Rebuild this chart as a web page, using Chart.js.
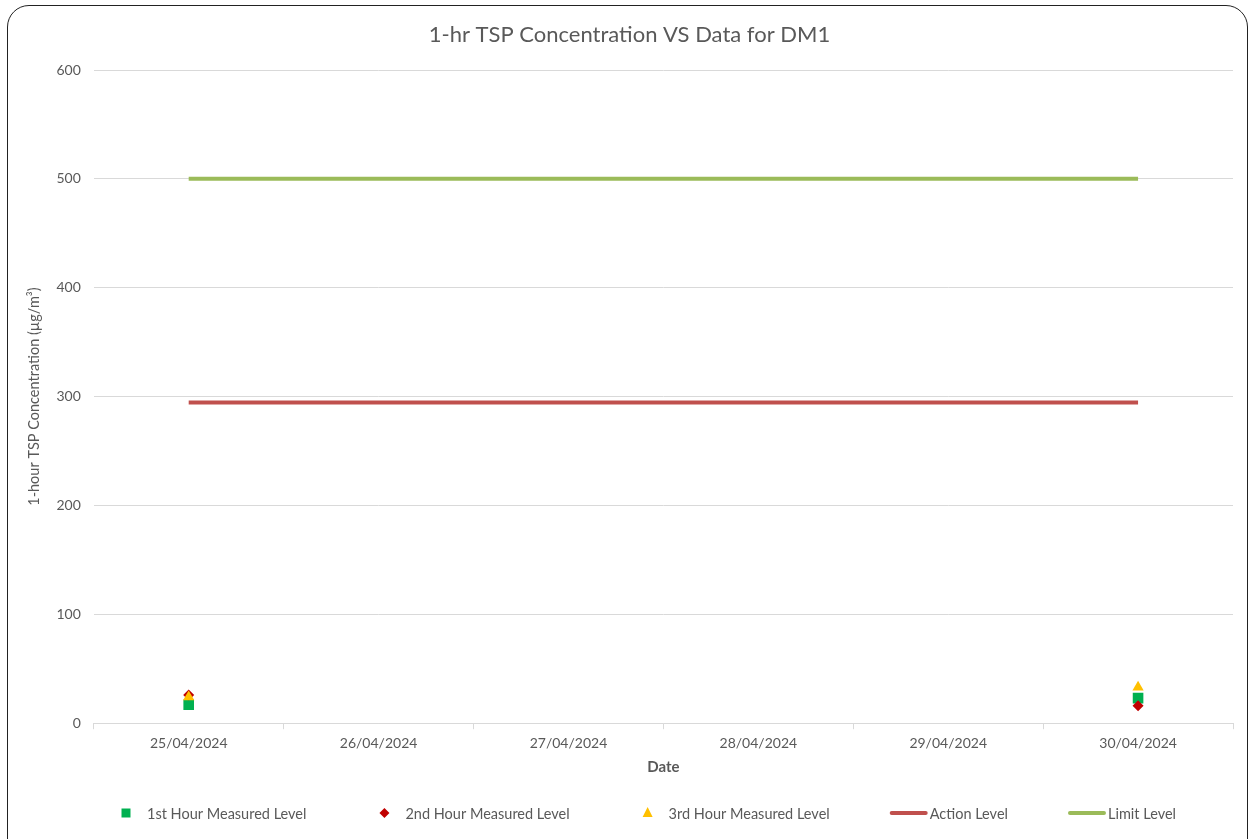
<!DOCTYPE html>
<html>
<head>
<meta charset="utf-8">
<script src="https://cdn.jsdelivr.net/npm/chart.js@4.4.1/dist/chart.umd.min.js"></script>
<style>
  html, body { margin: 0; padding: 0; background: #fff; }
  #frame {
    position: absolute; left: 7px; top: 5px; width: 1241px; height: 860px;
    border: 1.5px solid #222; border-radius: 22px; box-sizing: border-box;
  }
  #myChart { position: absolute; left: 0; top: 0; }
</style>
</head>
<body>
<div id="frame"></div>
<canvas id="myChart" width="1255" height="839"></canvas>
<script>
const labels = ["25/04/2024", "26/04/2024", "27/04/2024", "28/04/2024", "29/04/2024", "30/04/2024"];
const firstHour = [17, null, null, null, null, 23];
const secondHour = [26, null, null, null, null, 16];
const thirdHour = [24, null, null, null, null, 33];
const actionLevel = [294.5, 294.5, 294.5, 294.5, 294.5, 294.5];
const limitLevel = [500, 500, 500, 500, 500, 500];

const FONT = "Lato, Carlito, 'Open Sans', sans-serif";
const GREY = "#595959";

// legend drawn by hand so the line samples can be long like the original
const bottomLegend = {
  id: "bottomLegend",
  afterDraw(chart) {
    const ctx = chart.ctx;
    const y = 813;
    const gapsBefore = [0, 73, 73, 60, 60];
    ctx.save();
    ctx.font = "14.5px " + FONT;
    ctx.textBaseline = "middle";
    let x = 121;
    chart.data.datasets.forEach((ds, i) => {
      const isLine = ds.showLine !== false;
      const sample = isLine ? 38 : 10;
      const gap = isLine ? 2 : 16;
      x += gapsBefore[i];
      if (isLine) {
        ctx.strokeStyle = ds.borderColor;
        ctx.lineWidth = 4;
        ctx.lineCap = "round";
        ctx.beginPath();
        ctx.moveTo(x + 2, y);
        ctx.lineTo(x + sample - 2, y);
        ctx.stroke();
      } else {
        ctx.fillStyle = ds.pointBackgroundColor;
        const cx = x + 5;
        ctx.beginPath();
        if (ds.pointStyle === "rect") {
          ctx.rect(cx - 4.5, y - 4.5, 9, 9);
        } else if (ds.pointStyle === "rectRot") {
          ctx.moveTo(cx, y - 5); ctx.lineTo(cx + 5, y); ctx.lineTo(cx, y + 5); ctx.lineTo(cx - 5, y);
        } else {
          ctx.moveTo(cx, y - 6); ctx.lineTo(cx + 5, y + 4); ctx.lineTo(cx - 5, y + 4);
        }
        ctx.closePath();
        ctx.fill();
      }
      ctx.fillStyle = GREY;
      ctx.fillText(ds.label, x + sample + gap, y + 1);
      x += sample + gap + ctx.measureText(ds.label).width;
    });
    ctx.restore();
  }
};

const data = {
  labels: labels,
  datasets: [
    {
      label: "1st Hour Measured Level",
      data: firstHour,
      showLine: false,
      pointStyle: "rect",
      pointRadius: 7.5,
      pointBackgroundColor: "#00b050",
      pointBorderColor: "#00b050",
      pointBorderWidth: 0,
      order: 3,
    },
    {
      label: "2nd Hour Measured Level",
      data: secondHour,
      showLine: false,
      pointStyle: "rectRot",
      pointRadius: 5.5,
      pointBackgroundColor: "#c00000",
      pointBorderColor: "#c00000",
      pointBorderWidth: 0,
      order: 2,
    },
    {
      label: "3rd Hour Measured Level",
      data: thirdHour,
      showLine: false,
      pointStyle: "triangle",
      pointRadius: 6.5,
      pointBackgroundColor: "#ffc000",
      pointBorderColor: "#ffc000",
      pointBorderWidth: 0,
      order: 1,
    },
    {
      label: "Action Level",
      data: actionLevel,
      borderColor: "#c0504d",
      backgroundColor: "#c0504d",
      borderWidth: 4,
      pointRadius: 0,
      tension: 0,
      order: 4,
    },
    {
      label: "Limit Level",
      data: limitLevel,
      borderColor: "#9bbb59",
      backgroundColor: "#9bbb59",
      borderWidth: 4,
      pointRadius: 0,
      tension: 0,
      order: 5,
    },
  ],
};

const options = {
  responsive: false,
  animation: false,
  devicePixelRatio: 1,
  layout: { padding: { left: 26, right: 22, top: 0, bottom: 60 } },
  plugins: {
    legend: { display: false },
    tooltip: { enabled: false },
    title: {
      display: true,
      text: "1-hr TSP Concentration VS Data for DM1",
      color: GREY,
      font: { family: FONT, size: 22, weight: "normal" },
      padding: { top: 22, bottom: 21.6 },
    },
  },
  scales: {
    x: {
      offset: true,
      grid: {
        offset: true,
        drawOnChartArea: false,
        drawTicks: true,
        tickLength: 6,
        color: "#d9d9d9",
      },
      border: { color: "#d9d9d9", width: 1 },
      ticks: {
        color: GREY,
        font: { family: FONT, size: 14 },
        padding: 6,
        maxRotation: 0,
      },
      title: {
        display: true,
        text: "Date",
        color: GREY,
        font: { family: FONT, size: 15, weight: "bold" },
        padding: { top: 0, bottom: 3 },
      },
    },
    y: {
      min: 0,
      max: 600,
      ticks: {
        stepSize: 100,
        color: GREY,
        font: { family: FONT, size: 14 },
        padding: 13,
      },
      grid: { color: "#d9d9d9", drawTicks: false },
      border: { display: false },
      title: {
        display: true,
        text: "1-hour TSP Concentration (µg/m³)",
        color: GREY,
        font: { family: FONT, size: 14.5, weight: "normal" },
        padding: { top: 0, bottom: 0 },
      },
    },
  },
};

const config = {
  type: "line",
  data: data,
  options,
  plugins: [bottomLegend],
};

const myChart = new Chart(document.getElementById("myChart"), config);
</script>
</body>
</html>
